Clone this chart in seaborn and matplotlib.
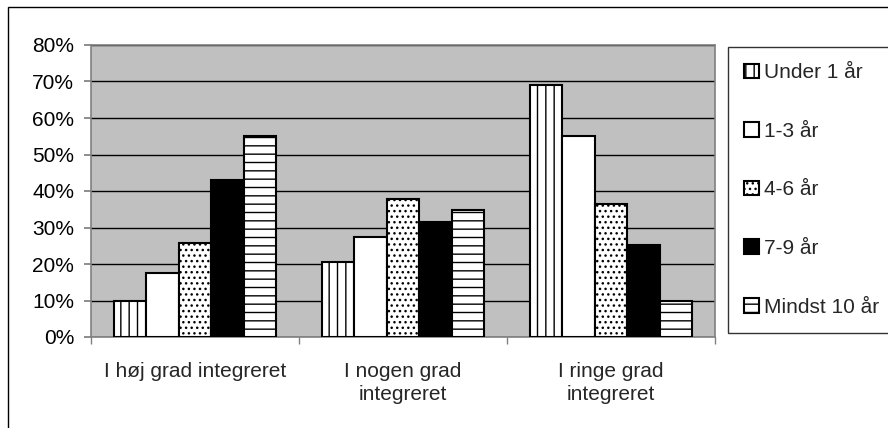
import numpy as np
import pandas as pd
import matplotlib
matplotlib.use('Agg')
import matplotlib.pyplot as plt
import seaborn as sns
from matplotlib.patches import Rectangle
from matplotlib.ticker import PercentFormatter

# Data
categories = ['I høj grad integreret', 'I nogen grad\nintegreret', 'I ringe grad\nintegreret']
groups = ['Under 1 år', '1-3 år', '4-6 år', '7-9 år', 'Mindst 10 år']
under_1 = [0.10, 0.205, 0.69]
aar_1_3 = [0.175, 0.273, 0.55]
aar_4_6 = [0.257, 0.378, 0.364]
aar_7_9 = [0.43, 0.316, 0.252]
mindst_10 = [0.55, 0.348, 0.10]

df = pd.DataFrame({
    'kategori': np.tile(categories, len(groups)),
    'gruppe': np.repeat(groups, len(categories)),
    'andel': under_1 + aar_1_3 + aar_4_6 + aar_7_9 + mindst_10,
})

sns.set_theme(style='white')
plt.rcParams['font.family'] = ['Liberation Sans', 'DejaVu Sans']
plt.rcParams['hatch.linewidth'] = 1.0

FS = 15

fig = plt.figure(figsize=(8.88, 4.28), dpi=100)
ax = fig.add_axes([91 / 888, 1 - 337 / 428, (715 - 91) / 888, (337 - 45) / 428])

sns.barplot(data=df, x='kategori', y='andel', hue='gruppe', order=categories,
            hue_order=groups, width=0.78, legend=False, ax=ax)

# fill + hatch per group, like the old Excel b/w patterns
styles = [('white', '||'), ('white', ''), ('white', '...'), ('black', ''), ('white', '--')]
for cont, (fc, hatch) in zip(ax.containers, styles):
    for p in cont:
        p.set_facecolor(fc)
        p.set_edgecolor('black')
        p.set_hatch(hatch)
        p.set_linewidth(1.5)
        p.set_zorder(3)

ax.set_facecolor('#C0C0C0')
ax.set_ylim(0, 0.8)
ax.set_xlim(-0.5, 2.5)
ax.set_yticks(np.arange(0, 0.81, 0.1))
ax.yaxis.set_major_formatter(PercentFormatter(1.0, decimals=0))
ax.grid(axis='y', color='black', linewidth=1, zorder=1)
ax.set_axisbelow(True)
ax.set_xlabel('')
ax.set_ylabel('')

for s in ax.spines.values():
    s.set_color('#808080')
    s.set_linewidth(1.2)

ax.tick_params(axis='y', which='major', length=5, direction='out', left=True,
               labelsize=FS, color='#808080', labelcolor='black', pad=7)
ax.set_xticks([0, 1, 2])
ax.set_xticklabels(categories, fontsize=FS, linespacing=1.25)
ax.set_xticks([-0.5, 0.5, 1.5, 2.5], minor=True)
ax.tick_params(axis='x', which='major', length=0, pad=18)
ax.tick_params(axis='x', which='minor', length=5, color='#808080', direction='out', bottom=True)

leg = ax.legend(handles=ax.containers, labels=groups, loc='upper left',
                bbox_to_anchor=(728 / 888, 1 - 47 / 428), bbox_transform=fig.transFigure,
                fontsize=FS, frameon=True, fancybox=False, edgecolor='black',
                handlelength=0.7, handleheight=0.7, handletextpad=0.25,
                labelspacing=1.9, borderpad=0.78, borderaxespad=0)
leg.get_frame().set_linewidth(1)
for h in leg.legend_handles:
    h.set_linewidth(1.5)

# chart area border
fig.patches.append(Rectangle((8 / 888, -0.1), 1.2, 1 - 7 / 428 + 0.1, transform=fig.transFigure,
                             fill=False, edgecolor='black', linewidth=1))

fig.savefig('out.png', dpi=100)
